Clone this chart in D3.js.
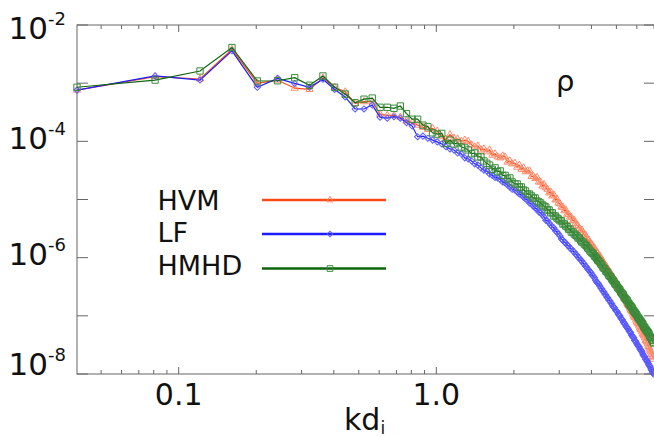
<!DOCTYPE html>
<html>
<head>
<meta charset="utf-8">
<script src="https://cdn.jsdelivr.net/npm/d3@7/dist/d3.min.js"></script>
<style>
  html, body { margin: 0; padding: 0; background: #fff; }
  svg { display: block; font-family: "DejaVu Sans", Verdana, sans-serif; }
</style>
</head>
<body>
<div id="chart"></div>
<script>
// wavenumber grid kd_i (one point per spectral mode)
const kd = [
  0.0403, 0.081, 0.121, 0.161, 0.202, 0.242, 0.282, 0.322, 0.363, 0.403,
  0.443, 0.484, 0.524, 0.564, 0.605, 0.645, 0.685, 0.725, 0.766, 0.806,
  0.846, 0.887, 0.927, 0.967, 1.008, 1.05, 1.09, 1.13, 1.17, 1.21,
  1.25, 1.29, 1.33, 1.37, 1.41, 1.45, 1.49, 1.53, 1.57, 1.61,
  1.65, 1.69, 1.73, 1.77, 1.81, 1.85, 1.89, 1.93, 1.97, 2.02,
  2.06, 2.10, 2.14, 2.18, 2.22, 2.26, 2.30, 2.34, 2.38, 2.42,
  2.46, 2.50, 2.54, 2.58, 2.62, 2.66, 2.70, 2.74, 2.78, 2.82,
  2.86, 2.90, 2.94, 2.98, 3.02, 3.06, 3.10, 3.14, 3.18, 3.22,
  3.26, 3.30, 3.34, 3.39, 3.43, 3.47, 3.51, 3.55, 3.59, 3.63,
  3.67, 3.71, 3.75, 3.79, 3.83, 3.87, 3.91, 3.95, 3.99, 4.03,
  4.07, 4.11, 4.15, 4.19, 4.23, 4.27, 4.31, 4.35, 4.39, 4.43,
  4.47, 4.51, 4.55, 4.59, 4.63, 4.67, 4.72, 4.76, 4.80, 4.84,
  4.88, 4.92, 4.96, 5.00, 5.04, 5.08, 5.12, 5.16, 5.20, 5.24,
  5.28, 5.32, 5.36, 5.40, 5.44, 5.48, 5.52, 5.56, 5.60, 5.64,
  5.68, 5.72, 5.76, 5.80, 5.84, 5.88, 5.92, 5.96, 6.00, 6.05,
  6.09, 6.13, 6.17, 6.21, 6.25, 6.29, 6.33, 6.37, 6.41, 6.45,
  6.49, 6.53, 6.57, 6.61, 6.65, 6.69, 6.73, 6.77, 6.81, 6.85,
  6.89, 6.93, 6.97
];

const hvm = [
  7.6e-4, 1.3e-3, 1.18e-3, 3.8e-3, 9.9e-4, 1.13e-3, 8.2e-4, 7.8e-4, 1.23e-3, 8.5e-4,
  7.1e-4, 4.5e-4, 4.8e-4, 4.8e-4, 2.95e-4, 2.8e-4, 2.8e-4, 2.6e-4, 2.25e-4, 2.1e-4,
  1.9e-4, 1.75e-4, 1.6e-4, 1.67e-4, 1.5e-4, 1.2e-4, 1.08e-4, 1.3e-4, 1.14e-4, 1.09e-4,
  1.0e-4, 1.05e-4, 1.0e-4, 8.7e-5, 8.0e-5, 8.3e-5, 7.1e-5, 7.4e-5, 6.6e-5, 7.1e-5,
  5.8e-5, 6.1e-5, 5.4e-5, 5.2e-5, 5.6e-5, 5.4e-5, 4.4e-5, 4.6e-5, 4.1e-5, 4.2e-5,
  3.6e-5, 3.9e-5, 3.3e-5, 3.5e-5, 3.0e-5, 3.1e-5, 3.1e-5, 2.5e-5, 2.5e-5, 2.3e-5,
  2.4e-5, 2.0e-5, 2.0e-5, 1.7e-5, 1.8e-5, 1.6e-5, 1.5e-5, 1.3e-5, 1.35e-5, 1.15e-5,
  1.2e-5, 9.8e-6, 1.02e-5, 8.7e-6, 8.4e-6, 7.4e-6, 7.4e-6, 6.4e-6, 6.6e-6, 5.6e-6,
  5.6e-6, 5.0e-6, 5.0e-6, 4.3e-6, 4.4e-6, 3.9e-6, 3.6e-6, 3.5e-6, 3.2e-6, 2.9e-6,
  3.0e-6, 2.7e-6, 2.45e-6, 2.45e-6, 2.2e-6, 2.0e-6, 2.0e-6, 1.8e-6, 1.72e-6, 1.65e-6,
  1.47e-6, 1.47e-6, 1.3e-6, 1.25e-6, 1.2e-6, 1.07e-6, 1.07e-6, 9.8e-7, 9.1e-7, 8.8e-7,
  8.1e-7, 7.5e-7, 7.2e-7, 6.9e-7, 6.1e-7, 5.9e-7, 5.7e-7, 5.0e-7, 5.0e-7, 4.65e-7,
  4.3e-7, 4.1e-7, 3.8e-7, 3.66e-7, 3.4e-7, 3.13e-7, 3.0e-7, 2.9e-7, 2.57e-7, 2.47e-7,
  2.37e-7, 2.19e-7, 2.02e-7, 1.94e-7, 1.87e-7, 1.73e-7, 1.6e-7, 1.53e-7, 1.47e-7, 1.36e-7,
  1.26e-7, 1.21e-7, 1.16e-7, 1.07e-7, 9.9e-8, 9.5e-8, 9.2e-8, 8.5e-8, 7.8e-8, 7.5e-8,
  7.2e-8, 6.7e-8, 6.2e-8, 5.9e-8, 5.7e-8, 5.3e-8, 4.9e-8, 4.7e-8, 4.5e-8, 4.2e-8,
  3.8e-8, 3.7e-8, 3.55e-8, 3.3e-8, 3.0e-8, 2.9e-8, 2.7e-8, 2.5e-8, 2.4e-8, 2.2e-8,
  2.0e-8, 1.96e-8, 1.8e-8
];

const lf = [
  7.6e-4, 1.33e-3, 1.13e-3, 3.6e-3, 8.5e-4, 1.21e-3, 9.9e-4, 8.5e-4, 1.17e-3, 7.8e-4,
  5.8e-4, 3.6e-4, 3.6e-4, 4.2e-4, 2.6e-4, 2.5e-4, 2.65e-4, 2.5e-4, 2.1e-4, 1.83e-4,
  1.2e-4, 1.23e-4, 1.13e-4, 1.05e-4, 9.8e-5, 9.0e-5, 8.1e-5, 7.4e-5, 7.1e-5, 6.3e-5,
  6.1e-5, 5.2e-5, 5.0e-5, 4.6e-5, 4.1e-5, 3.9e-5, 3.5e-5, 3.2e-5, 3.1e-5, 2.75e-5,
  2.6e-5, 2.4e-5, 2.35e-5, 2.2e-5, 2.0e-5, 1.92e-5, 1.78e-5, 1.64e-5, 1.5e-5, 1.46e-5,
  1.35e-5, 1.24e-5, 1.2e-5, 1.1e-5, 1.02e-5, 9.8e-6, 8.7e-6, 8.4e-6, 7.7e-6, 7.1e-6,
  6.9e-6, 6.1e-6, 5.9e-6, 5.4e-6, 5.0e-6, 4.4e-6, 4.3e-6, 3.95e-6, 3.65e-6, 3.4e-6,
  3.24e-6, 2.9e-6, 2.76e-6, 2.55e-6, 2.36e-6, 2.1e-6, 2.0e-6, 1.86e-6, 1.79e-6, 1.65e-6,
  1.59e-6, 1.47e-6, 1.41e-6, 1.3e-6, 1.25e-6, 1.16e-6, 1.11e-6, 1.03e-6, 9.8e-7, 9.1e-7,
  8.8e-7, 8.1e-7, 7.8e-7, 7.2e-7, 6.9e-7, 6.4e-7, 6.1e-7, 5.7e-7, 5.45e-7, 5.0e-7,
  4.8e-7, 4.5e-7, 4.1e-7, 3.8e-7, 3.66e-7, 3.5e-7, 3.25e-7, 3.0e-7, 2.9e-7, 2.67e-7,
  2.57e-7, 2.37e-7, 2.28e-7, 2.1e-7, 2.02e-7, 1.87e-7, 1.8e-7, 1.66e-7, 1.6e-7, 1.47e-7,
  1.42e-7, 1.36e-7, 1.26e-7, 1.21e-7, 1.16e-7, 1.07e-7, 1.03e-7, 9.9e-8, 9.2e-8, 8.8e-8,
  8.5e-8, 7.8e-8, 7.5e-8, 7.2e-8, 6.7e-8, 6.4e-8, 6.2e-8, 5.9e-8, 5.5e-8, 5.3e-8,
  5.1e-8, 4.7e-8, 4.5e-8, 4.3e-8, 4.2e-8, 3.8e-8, 3.7e-8, 3.55e-8, 3.3e-8, 3.15e-8,
  3.0e-8, 2.9e-8, 2.7e-8, 2.6e-8, 2.5e-8, 2.4e-8, 2.2e-8, 2.1e-8, 2.0e-8, 1.96e-8,
  1.8e-8, 1.74e-8, 1.67e-8, 1.6e-8, 1.5e-8, 1.43e-8, 1.37e-8, 1.32e-8, 1.22e-8, 1.17e-8,
  1.08e-8, 1.04e-8, 1.0e-8
];

const hmhd = [
  8.5e-4, 1.13e-3, 1.62e-3, 4.1e-3, 1.09e-3, 1.1e-3, 1.24e-3, 9.2e-4, 1.33e-3, 8.5e-4,
  6.5e-4, 4.6e-4, 5.3e-4, 5.55e-4, 3.85e-4, 3.85e-4, 3.7e-4, 4.05e-4, 3.0e-4, 2.4e-4,
  2.4e-4, 1.9e-4, 1.78e-4, 1.4e-4, 1.33e-4, 1.37e-4, 9.2e-5, 1.05e-4, 9.0e-5, 9.4e-5,
  8.0e-5, 7.7e-5, 7.1e-5, 6.1e-5, 6.3e-5, 5.4e-5, 5.4e-5, 4.6e-5, 4.2e-5, 3.9e-5,
  3.3e-5, 3.5e-5, 3.0e-5, 3.1e-5, 2.6e-5, 2.6e-5, 2.25e-5, 2.35e-5, 2.0e-5, 1.85e-5,
  1.85e-5, 1.64e-5, 1.64e-5, 1.46e-5, 1.4e-5, 1.24e-5, 1.24e-5, 1.15e-5, 1.06e-5, 1.06e-5,
  9.4e-6, 9.1e-6, 8.7e-6, 8.05e-6, 7.7e-6, 7.4e-6, 6.6e-6, 6.6e-6, 5.9e-6, 5.9e-6,
  5.2e-6, 5.2e-6, 4.8e-6, 4.6e-6, 4.3e-6, 4.3e-6, 3.8e-6, 3.8e-6, 3.5e-6, 3.4e-6,
  3.1e-6, 3.1e-6, 2.76e-6, 2.76e-6, 2.55e-6, 2.45e-6, 2.36e-6, 2.18e-6, 2.18e-6, 2.0e-6,
  1.86e-6, 1.86e-6, 1.72e-6, 1.65e-6, 1.59e-6, 1.47e-6, 1.41e-6, 1.3e-6, 1.25e-6, 1.2e-6,
  1.16e-6, 1.07e-6, 1.03e-6, 9.8e-7, 9.1e-7, 8.8e-7, 8.4e-7, 7.8e-7, 7.5e-7, 6.9e-7,
  6.6e-7, 6.4e-7, 5.9e-7, 5.7e-7, 5.45e-7, 5.0e-7, 4.8e-7, 4.65e-7, 4.3e-7, 4.1e-7,
  3.95e-7, 3.66e-7, 3.5e-7, 3.4e-7, 3.13e-7, 3.0e-7, 2.9e-7, 2.78e-7, 2.57e-7, 2.47e-7,
  2.37e-7, 2.28e-7, 2.1e-7, 2.02e-7, 1.94e-7, 1.87e-7, 1.8e-7, 1.66e-7, 1.6e-7, 1.53e-7,
  1.47e-7, 1.42e-7, 1.36e-7, 1.26e-7, 1.21e-7, 1.16e-7, 1.12e-7, 1.07e-7, 1.03e-7, 9.5e-8,
  9.2e-8, 8.8e-8, 8.5e-8, 8.15e-8, 7.8e-8, 7.5e-8, 7.2e-8, 6.7e-8, 6.4e-8, 6.2e-8,
  5.9e-8, 5.7e-8, 5.5e-8, 5.3e-8, 5.1e-8, 4.9e-8, 4.5e-8, 4.3e-8, 4.2e-8, 4.0e-8,
  3.8e-8, 3.55e-8, 3.4e-8
];

const seriesNames = ["HVM", "LF", "HMHD"];
const yDecades = [-8, -7, -6, -5, -4, -3, -2];
const yLabelled = [-2, -4, -6, -8];
const xMajor = [0.1, 1.0];
const xMajorLabels = ["0.1", "1.0"];
const xMinor = [0.05, 0.06, 0.07, 0.08, 0.09, 0.2, 0.3, 0.4, 0.5, 0.6, 0.7, 0.8, 0.9, 2, 3, 4, 5, 6, 7];

const W = 654, H = 437;
const m = { left: 77, right: 655, top: 25, bottom: 374 };

const svg = d3.select("#chart").append("svg")
  .attr("width", W).attr("height", H).attr("viewBox", `0 0 ${W} ${H}`);

const x = d3.scaleLog().domain([0.0403, 7.06]).range([m.left, m.right]);
const y = d3.scaleLog().domain([1e-8, 1e-2]).range([m.bottom, m.top]);

const axisCol = "#666";

// frame
svg.append("rect").attr("x", m.left).attr("y", m.top)
  .attr("width", m.right - m.left).attr("height", m.bottom - m.top)
  .attr("fill", "none").attr("stroke", axisCol).attr("stroke-width", 1);

// y ticks (both sides, inward)
const yt = yDecades.map((e) => Math.pow(10, e));
svg.append("g").selectAll("line").data(yt).join("line")
  .attr("x1", m.left).attr("x2", m.left + 11).attr("y1", y).attr("y2", y)
  .attr("stroke", axisCol);
svg.append("g").selectAll("line").data(yt).join("line")
  .attr("x1", m.right - 11).attr("x2", m.right).attr("y1", y).attr("y2", y)
  .attr("stroke", axisCol);

// x ticks top + bottom
const xt = xMajor.map((v) => ({ v, len: 7 })).concat(xMinor.map((v) => ({ v, len: 4 })));
svg.append("g").selectAll("line").data(xt).join("line")
  .attr("x1", (d) => x(d.v)).attr("x2", (d) => x(d.v))
  .attr("y1", m.bottom).attr("y2", (d) => m.bottom - d.len).attr("stroke", axisCol);
svg.append("g").selectAll("line").data(xt).join("line")
  .attr("x1", (d) => x(d.v)).attr("x2", (d) => x(d.v))
  .attr("y1", m.top).attr("y2", (d) => m.top + d.len).attr("stroke", axisCol);

// y labels 10^e
const yNudge = { "-2": 14, "-4": 8, "-6": 7, "-8": 1 };
const yl = svg.append("g").selectAll("text").data(yLabelled).join("text")
  .attr("x", 8.5).attr("y", (e) => y(Math.pow(10, e)) + yNudge[e])
  .attr("font-size", 31).attr("fill", "#111");
yl.append("tspan").text("10");
yl.append("tspan").attr("dy", -14).attr("font-size", 18).text((e) => "-" + Math.abs(e));

// x labels
svg.append("g").selectAll("text").data(xMajor).join("text")
  .attr("x", x).attr("y", 405).attr("text-anchor", "middle")
  .attr("font-size", 30).attr("fill", "#111")
  .text((d, i) => xMajorLabels[i]);

// x axis title
const xt2 = svg.append("text").attr("x", 344).attr("y", 430)
  .attr("font-size", 30).attr("fill", "#111");
xt2.append("tspan").text("kd");
xt2.append("tspan").attr("dy", 4).attr("font-size", 17).text("i");

// panel label
svg.append("text").attr("x", 556).attr("y", 91).attr("font-size", 29)
  .attr("fill", "#111").text("ρ");

// series
const series = [
  { name: seriesNames[0], vals: hvm, line: "#ff4a14", mark: "#ff8a6a", sym: "tri" },
  { name: seriesNames[1], vals: lf, line: "#1c1cff", mark: "#5a5aff", sym: "dia" },
  { name: seriesNames[2], vals: hmhd, line: "#0c640c", mark: "#3a8a3a", sym: "sq" }
];

svg.append("defs").append("clipPath").attr("id", "plotclip").append("rect")
  .attr("x", m.left).attr("y", m.top).attr("width", m.right - m.left).attr("height", m.bottom - m.top);

function symPath(kind, scale) {
  if (kind === "tri") return d3.symbol(d3.symbolTriangle, 22 * scale)();
  if (kind === "dia") return d3.symbol(d3.symbolSquare, 19 * scale)();
  return d3.symbol(d3.symbolSquare, 40 * scale)();
}

const line = d3.line().x((d, i) => x(kd[i])).y((d) => y(d));

series.forEach((s) => {
  const g = svg.append("g");
  g.append("path").datum(s.vals).attr("d", line).attr("clip-path", "url(#plotclip)")
    .attr("fill", "none").attr("stroke", s.line).attr("stroke-width", 1.2);
  g.selectAll("path.pt").data(s.vals).join("path").attr("class", "pt")
    .attr("d", symPath(s.sym, 1))
    .attr("transform", (d, i) => `translate(${x(kd[i])},${y(d)})` + (s.sym === "dia" ? " rotate(45)" : ""))
    .attr("fill", "none").attr("stroke", s.mark).attr("stroke-width", 1);
});

// legend
const legY = [200, 234, 268.5];
const legTextY = [209.5, 242, 274.5];
const leg = svg.append("g");
series.forEach((s, i) => {
  leg.append("text").attr("x", 157.5).attr("y", legTextY[i]).attr("font-size", 27)
    .attr("fill", "#111").text(s.name);
  leg.append("line").attr("x1", 262).attr("x2", 386).attr("y1", legY[i]).attr("y2", legY[i])
    .attr("stroke", s.line).attr("stroke-width", 2.6);
  leg.append("path").attr("d", symPath(s.sym, 0.8))
    .attr("transform", `translate(330,${legY[i]})` + (s.sym === "dia" ? " rotate(45)" : ""))
    .attr("fill", "none").attr("stroke", s.mark).attr("stroke-width", 1);
});
</script>
</body>
</html>
